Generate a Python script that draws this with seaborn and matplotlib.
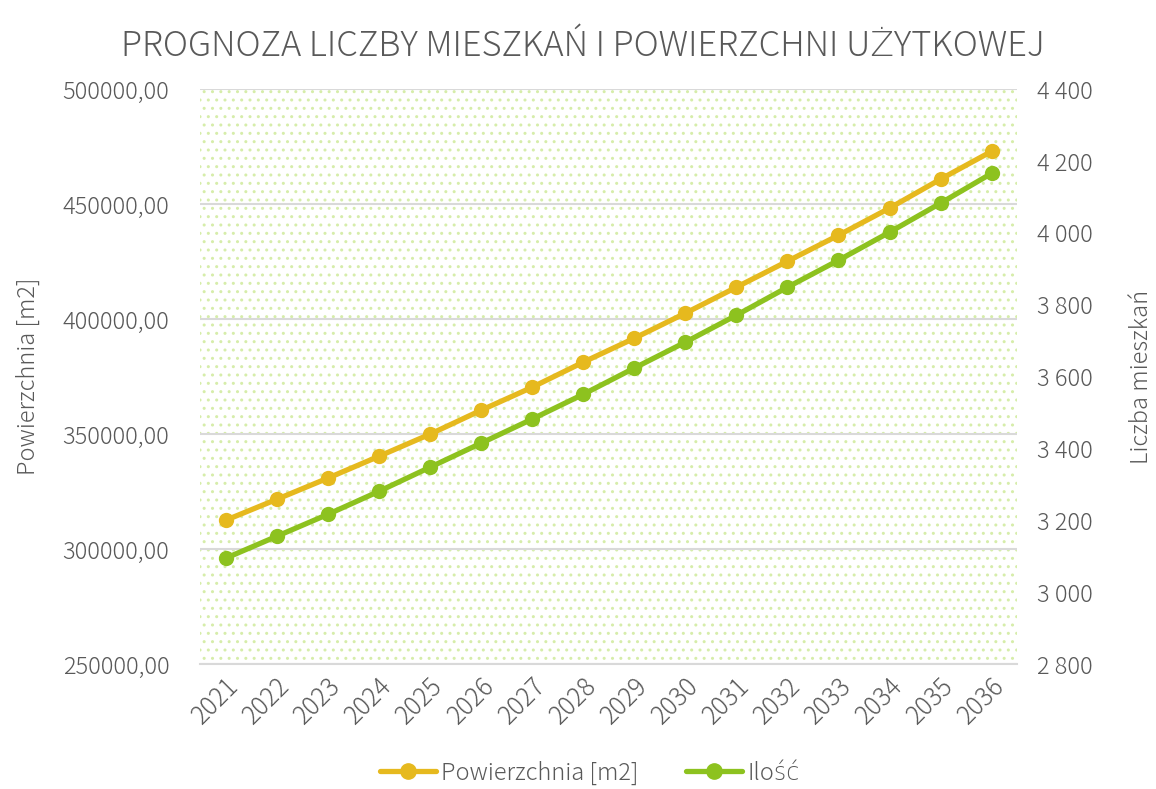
import numpy as np
import pandas as pd
import seaborn as sns
import matplotlib.pyplot as plt
from matplotlib.patches import Rectangle
from matplotlib.lines import Line2D
from matplotlib.ticker import FuncFormatter

# data
years = [2021, 2022, 2023, 2024, 2025, 2026, 2027, 2028,
         2029, 2030, 2031, 2032, 2033, 2034, 2035, 2036]
powierzchnia = [312600, 321700, 330900, 340400, 350000, 360400, 370400, 381300,
                391700, 402600, 413900, 425200, 436500, 448300, 460900, 473000]
ilosc = [3095, 3156, 3217, 3281, 3348, 3415, 3482, 3551,
         3624, 3696, 3771, 3849, 3924, 4002, 4083, 4166]

df = pd.DataFrame({"Rok": years, "Powierzchnia [m2]": powierzchnia, "Ilość": ilosc})

YELLOW = "#E6B91E"
GREEN = "#8DC21F"
GRAY = "#595959"
GRID = "#D9D9D9"

sns.set_style("white")
plt.rcParams['font.family'] = ['Noto Sans CJK JP', 'DejaVu Sans']
plt.rcParams['font.weight'] = 'light'
plt.rcParams['hatch.linewidth'] = 1.0

fig = plt.figure(figsize=(11.56, 7.89), dpi=100)
ax = fig.add_axes([0.173, 0.158, 0.707, 0.729])
ax2 = ax.twinx()

# dotted background
ax.add_patch(Rectangle((0, 0), 1, 1, transform=ax.transAxes, facecolor="none",
                       edgecolor="#D6EDAA", hatch="..", linewidth=0, zorder=0))

sns.lineplot(data=df, x="Rok", y="Powierzchnia [m2]", ax=ax, color=YELLOW,
             marker="o", markersize=11, markeredgewidth=0, linewidth=3.8, zorder=3)
sns.lineplot(data=df, x="Rok", y="Ilość", ax=ax2, color=GREEN,
             marker="o", markersize=11, markeredgewidth=0, linewidth=3.8, zorder=3)

ax.set_xlim(2020.5, 2036.5)
ax.set_ylim(250000, 500000)
ax.set_yticks(np.arange(250000, 500001, 50000))
ax.yaxis.set_major_formatter(FuncFormatter(lambda v, p: f"{v:.2f}".replace(".", ",")))
ax2.set_ylim(2800, 4400)
ax2.set_yticks(np.arange(2800, 4401, 200))
ax2.yaxis.set_major_formatter(FuncFormatter(lambda v, p: f"{int(v):,}".replace(",", " ")))

ax.set_xticks(years)
ax.set_xticklabels([str(y) for y in years], rotation=45, ha="right", rotation_mode="anchor")

ax.grid(axis="y", color=GRID, linewidth=1.5)
ax2.grid(False)
for a in (ax, ax2):
    for s in a.spines.values():
        s.set_visible(False)
    a.tick_params(length=0, labelsize=17, labelcolor=GRAY)
ax.tick_params(axis="x", labelsize=18, pad=6)
ax.spines["bottom"].set_visible(True)
ax.spines["bottom"].set_color(GRID)
ax.spines["bottom"].set_linewidth(1.5)
ax.tick_params(axis="y", pad=22)
ax2.tick_params(axis="y", pad=14)

ax.set_xlabel("")
ax.set_ylabel("Powierzchnia [m2]", fontsize=17, color=GRAY, labelpad=16, fontweight="light")
ax2.set_ylabel("Liczba mieszkań", fontsize=17, color=GRAY, labelpad=26, fontweight="light")

fig.suptitle("PROGNOZA LICZBY MIESZKAŃ I POWIERZCHNI UŻYTKOWEJ", x=0.504, y=0.965,
             fontsize=24.8, color=GRAY, fontweight="light")

handles = [Line2D([], [], color=YELLOW, marker="o", markersize=11, linewidth=3.8),
           Line2D([], [], color=GREEN, marker="o", markersize=11, linewidth=3.8)]
fig.legend(handles, ["Powierzchnia [m2]", "Ilość"], loc="center", ncol=2,
           bbox_to_anchor=(0.51, 0.02), frameon=False, fontsize=17,
           labelcolor=GRAY, handlelength=2.4, handletextpad=0.2, columnspacing=2.0)

fig.savefig("out.png", dpi=100)
